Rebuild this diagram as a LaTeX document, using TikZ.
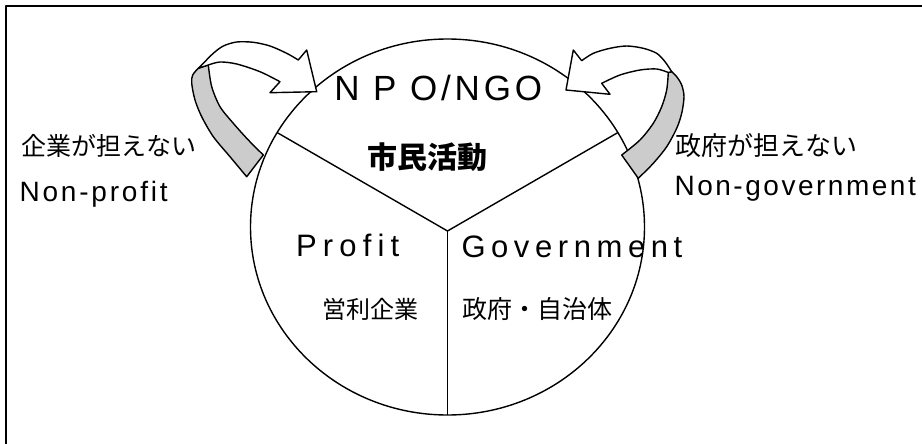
\documentclass[tikz,border=0pt]{standalone}
\usepackage{fontspec}
\setmainfont{Liberation Sans}
\newfontfamily\jpfont{Noto Sans CJK JP}
\usetikzlibrary{shapes.geometric}
\tikzset{
  lbl/.style={inner sep=0pt, outer sep=0pt},
  thinline/.style={line width=1.4pt},
  greyband/.style={fill=gray!40, draw=black, line width=1.4pt},
  whitearrow/.style={fill=white, draw=black, line width=1.4pt},
}
\begin{document}
\begin{tikzpicture}[x=1pt,y=-1pt,line join=round]
\useasboundingbox (0,0) rectangle (922,444);
% frame (only top and left edges visible)
\draw[line width=2.5pt] (6,444) -- (6,6) -- (922,6);
% ellipse
\node[ellipse, draw, thinline, minimum width=394pt, minimum height=376pt, inner sep=0pt, outer sep=0pt] (E) at (447.5,227) {};
\coordinate (J) at (447.5,231);
\draw[thinline] (E.151.4) -- (J) -- (E.29);
\draw[thinline] (J) -- (E.south);
% texts
\node[lbl, anchor=base west, font={\fontsize{35}{40}\selectfont\addfontfeature{LetterSpace=11}}] (npo) at (334.3,100) {N P O/NGO};
\node[lbl, font={\jpfont\bfseries\fontsize{30}{34}\selectfont}] (shimin) at (427.5,157.5) {市民活動};
\node[lbl, font={\jpfont\fontsize{25}{30}\selectfont}] (kigyoL) at (109.3,145.5) {企業が担えない};
\node[lbl, anchor=base west, font={\fontsize{28}{32}\selectfont\addfontfeature{LetterSpace=10}}] (np) at (19.6,201.7) {Non-profit};
\node[lbl, font={\jpfont\fontsize{26}{30}\selectfont}] (seifuR) at (766.5,146) {政府が担えない};
\node[lbl, anchor=base west, font={\fontsize{28}{32}\selectfont\addfontfeature{LetterSpace=9}}] (ng) at (674.6,195) {Non-government};
\node[lbl, anchor=base west, font={\fontsize{31}{35}\selectfont\addfontfeature{LetterSpace=20}}] (profit) at (296,256.7) {Profit};
\node[lbl, anchor=base west, font={\fontsize{31}{35}\selectfont\addfontfeature{LetterSpace=18}}] (gov) at (461.5,257) {Government};
\node[lbl, font={\jpfont\fontsize{24}{28}\selectfont}] (eiri) at (370,309) {営利企業};
\node[lbl, font={\jpfont\fontsize{25}{30}\selectfont}] (jichi) at (537.5,309) {政府・自治体};
% left curved arrow
\path[greyband] plot[smooth] coordinates {(246.7,176.7) (230,156.7) (213.3,136.7) (201.7,116.7) (195,100) (191.7,83.3) (192.7,75) (198.3,68.3)}
  -- plot[smooth] coordinates {(208.3,65) (211.7,86.7) (220,106.7) (233.3,123.3) (248.3,140) (263.3,155)} -- cycle;
\path[whitearrow] plot[smooth] coordinates {(198.3,68.3) (203.3,63.3) (213.3,53.3) (223.3,46) (236.7,42) (253.3,42.3) (270,46) (286.7,53.3) (298.3,60)}
  -- (306.7,50) -- (316.7,91.7) -- (270,92.7)
  -- plot[smooth] coordinates {(280,81.7) (260,71.7) (236.7,64) (220,62) (208.3,65)} -- cycle;
% right curved arrow
\path[greyband] plot[smooth] coordinates {(638.3,178.3) (653.3,163.3) (666.7,146.7) (676.7,128.3) (681.7,113.3) (684,96.7) (681.7,85) (676.7,76.7) (671.7,71.7)}
  -- plot[smooth] coordinates {(668.3,72.5) (666.7,90) (661.7,106.7) (653.3,123.3) (640,140) (621.7,155)} -- cycle;
\path[whitearrow] plot[smooth] coordinates {(671.7,71.7) (665,61.7) (656.7,53.3) (643.3,48.3) (626.7,46) (610,48.3) (593.3,53.3) (581.7,60.7)}
  -- (573.3,50) -- (566,90) -- (610,94.3)
  -- plot[smooth] coordinates {(601.7,83.3) (620,75) (640,70) (656.7,69) (668.3,72.5)} -- cycle;
\end{tikzpicture}
\end{document}
